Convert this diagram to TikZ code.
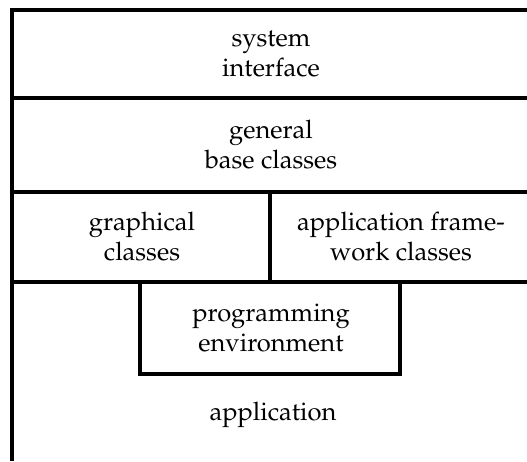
\documentclass[tikz,border=0pt]{standalone}
\IfFileExists{mathpazo.sty}
  {\usepackage[T1]{fontenc}\usepackage{mathpazo}}
  {\usepackage{fontspec}\setmainfont{Liberation Serif}}
\begin{document}
\begin{tikzpicture}[x=1pt,y=1pt,
  rule/.style={line width=3.2pt},
  layertext/.style={align=center,inner sep=0pt,
    font=\fontsize{25.5}{30}\selectfont}]
\useasboundingbox (0,0) rectangle (527,461);
% layer boundaries
\coordinate (tl) at (12,451);
\coordinate (tr) at (527,451);
\coordinate (bl) at (12,0);
\draw[rule] (tr) -- (tl) -- (bl);
\draw[rule] (10.4,363) -- (527,363);
\draw[rule] (10.4,269) -- (527,269);
\draw[rule] (10.4,179) -- (527,179);
% split of the third layer
\draw[rule] (270,269) -- (270,179);
% programming environment box
\draw[rule] (140,179) -- (140,87) -- (400,87) -- (400,179);
% labels
\node[layertext] (sys) at (271,407) {system\\ interface};
\node[layertext] (gen) at (271,316) {general\\ base classes};
\node[layertext] (gra) at (142,224) {graphical\\ classes};
\node[layertext] (app) at (401,224) {application frame-\\ work classes};
\node[layertext] (prog) at (271,133) {programming\\ environment};
\node[layertext,anchor=base] (appl) at (273,41) {application};
\end{tikzpicture}
\end{document}
